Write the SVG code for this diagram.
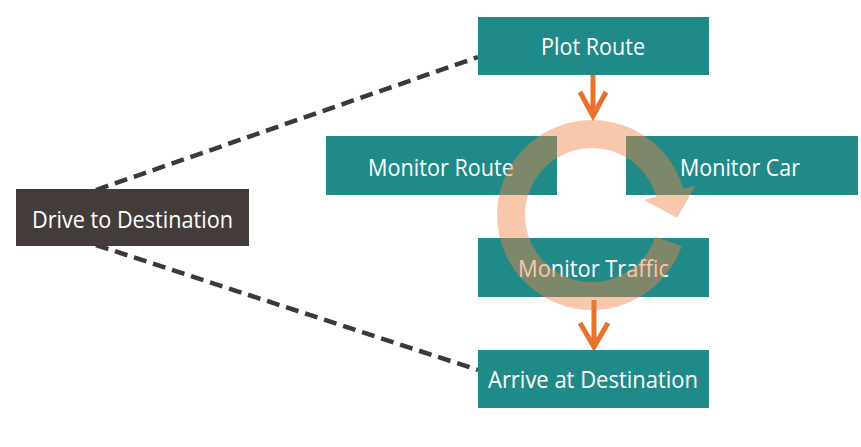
<svg xmlns="http://www.w3.org/2000/svg" width="861" height="447" viewBox="0 0 861 447">
<style>
.box{fill:#1F8A88}
.dark{fill:#443B3B}
.lbl{font-family:"Open Sans","Liberation Sans",sans-serif;font-size:24px;fill:#FFFFFF;text-anchor:middle}
.dash{stroke:#3F3838;stroke-width:4.5;stroke-dasharray:13 7;fill:none}
.flow{stroke:#E8722C;stroke-width:5;fill:none;stroke-linecap:butt;stroke-linejoin:miter}
</style>
<rect width="861" height="447" fill="#FFFFFF"/>
<g id="connectors">
<line class="dash" x1="96" y1="190" x2="478" y2="57"/>
<line class="dash" x1="96" y1="245" x2="478" y2="370"/>
<path class="flow" d="M593 75 V116 M580 92 L593 116 L606 92"/>
<path class="flow" d="M594 300 V347 M580 323 L594 347 L608 323"/>
</g>
<g id="drive">
<rect class="dark" x="16" y="189" width="233" height="57"/>
<text class="lbl" x="132.5" y="228" textLength="201" lengthAdjust="spacingAndGlyphs">Drive to Destination</text>
</g>
<g id="plot">
<rect class="box" x="478" y="17" width="231" height="58"/>
<text class="lbl" x="593" y="55" textLength="104" lengthAdjust="spacingAndGlyphs">Plot Route</text>
</g>
<g id="mroute">
<rect class="box" x="326" y="136" width="231" height="59"/>
<text class="lbl" x="441" y="176" textLength="146" lengthAdjust="spacingAndGlyphs">Monitor Route</text>
</g>
<g id="mcar">
<rect class="box" x="626" y="136" width="232" height="59"/>
<text class="lbl" x="740" y="176" textLength="120" lengthAdjust="spacingAndGlyphs">Monitor Car</text>
</g>
<g id="mtraffic">
<rect class="box" x="478" y="238" width="231" height="59"/>
<text class="lbl" x="593.5" y="277" textLength="151" lengthAdjust="spacingAndGlyphs">Monitor Traffic</text>
</g>
<g id="arrive">
<rect class="box" x="478" y="350" width="231" height="58"/>
<text class="lbl" x="593" y="388" textLength="210" lengthAdjust="spacingAndGlyphs">Arrive at Destination</text>
</g>
<g id="cycle">
<path fill="#EF8348" fill-opacity="0.45" d="M681.8 245.9 A95 95 0 1 1 683.3 188.8 L695.8 185.2 L677.1 217.7 L643.9 200.1 L656.4 196.5 A67 67 0 1 0 655.4 236.8 Z"/>
</g>
</svg>
